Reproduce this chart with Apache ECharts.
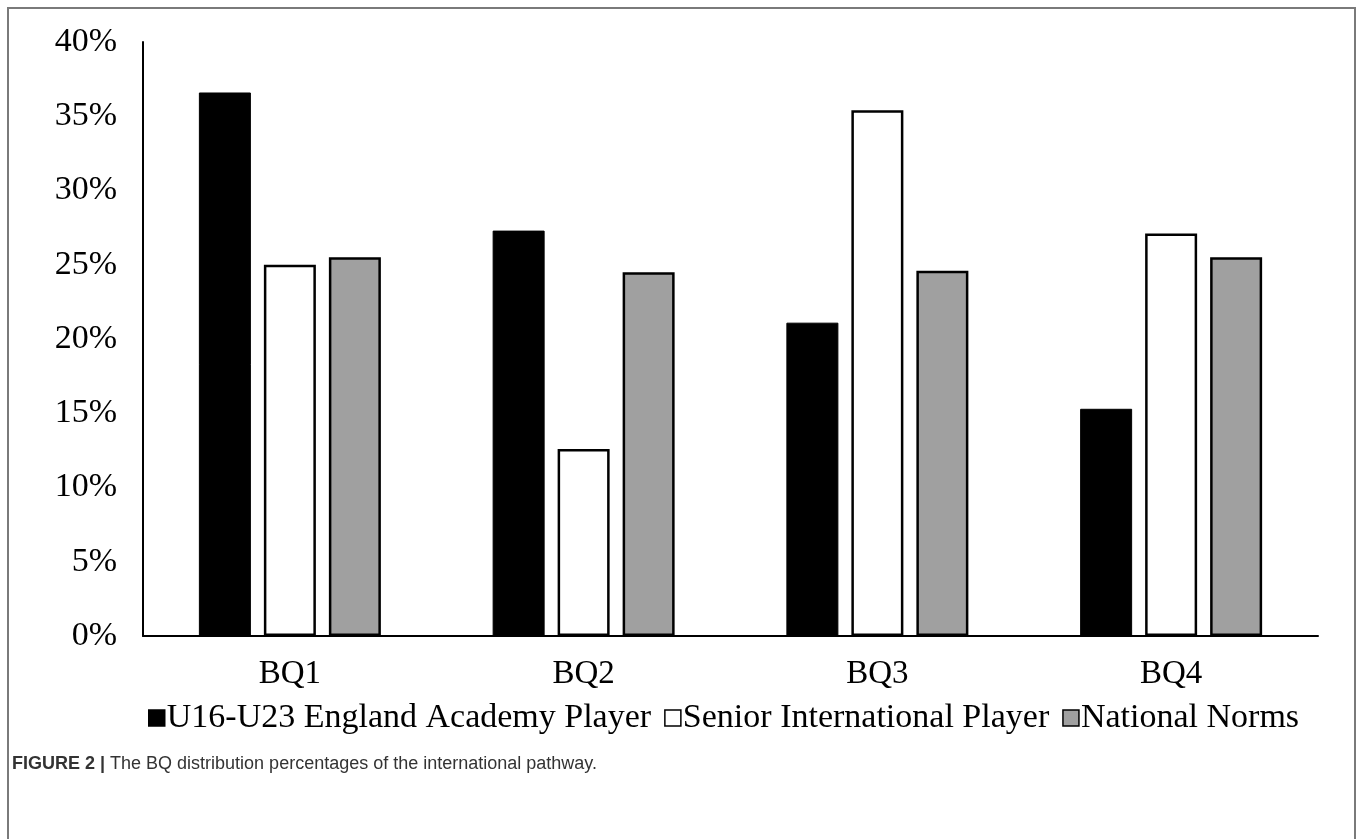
<!DOCTYPE html>
<html>
<head>
<meta charset="utf-8">
<script src="https://cdn.jsdelivr.net/npm/echarts@6/dist/echarts.min.js"></script>
<style>
html,body{margin:0;padding:0;background:#fff;}
#chart{width:1358px;height:839px;}
</style>
</head>
<body>
<div id="chart"></div>
<script>
const categories = ['BQ1', 'BQ2', 'BQ3', 'BQ4'];
const academy = [36.6, 27.3, 21.1, 15.3];
const senior = [25.0, 12.6, 35.4, 27.1];
const norms = [25.5, 24.5, 24.6, 25.5];
const seriesNames = ['U16-U23 England Academy Player', 'Senior International Player', 'National Norms'];
const yTicks = { min: 0, max: 40, interval: 5 };
const captionBold = 'FIGURE 2 | ';
const captionText = 'The BQ distribution percentages of the international pathway.';

const serif = '"Liberation Serif", "Times New Roman", serif';
const chart = echarts.init(document.getElementById('chart'), null, { renderer: 'canvas' });

function bar(name, data, fill, bw) {
  return {
    name: name,
    type: 'bar',
    data: data,
    barWidth: 52,
    barGap: '25%',
    itemStyle: { color: fill, borderColor: '#000', borderWidth: bw },
    emphasis: { disabled: true }
  };
}

chart.setOption({
  animation: false,
  backgroundColor: '#fff',
  grid: { left: 143, right: 40, top: 42, bottom: 203, containLabel: false },
  legend: {
    left: 148,
    top: 701,
    padding: 0,
    itemWidth: 16,
    itemHeight: 16,
    itemGap: 13,
    icon: 'rect',
    textStyle: { fontFamily: serif, fontSize: 34, color: '#000', padding: [0, 0, 0, -3] },
    itemStyle: { borderWidth: 1.5, borderColor: '#000' },
    data: seriesNames
  },
  xAxis: {
    type: 'category',
    data: categories,
    axisLine: { show: true, lineStyle: { color: '#000', width: 2 } },
    axisTick: { show: false },
    axisLabel: { fontFamily: serif, fontSize: 33, color: '#000', margin: 22 },
    splitLine: { show: false }
  },
  yAxis: {
    type: 'value',
    min: yTicks.min,
    max: yTicks.max,
    interval: yTicks.interval,
    axisLine: { show: true, lineStyle: { color: '#000', width: 2 } },
    axisTick: { show: false },
    splitLine: { show: false },
    axisLabel: { fontFamily: serif, fontSize: 34, color: '#000', margin: 26, formatter: '{value}%' }
  },
  series: [
    bar(seriesNames[0], academy, '#000', 1),
    bar(seriesNames[1], senior, '#fff', 2.5),
    bar(seriesNames[2], norms, '#a0a0a0', 2.5)
  ],
  graphic: [
    {
      type: 'polyline',
      silent: true,
      shape: { points: [[8, 839], [8, 8], [1355, 8], [1355, 839]] },
      style: { stroke: '#7a7a7a', lineWidth: 2, fill: null }
    },
    {
      type: 'text',
      left: 12,
      top: 755,
      silent: true,
      style: {
        text: '{b|' + captionBold + '}{r|' + captionText + '}',
        rich: {
          b: { fontFamily: '"Liberation Sans", Arial, sans-serif', fontSize: 18, fontWeight: 'bold', fill: '#333' },
          r: { fontFamily: '"Liberation Sans", Arial, sans-serif', fontSize: 18, fill: '#333' }
        }
      }
    }
  ]
});
</script>
</body>
</html>
